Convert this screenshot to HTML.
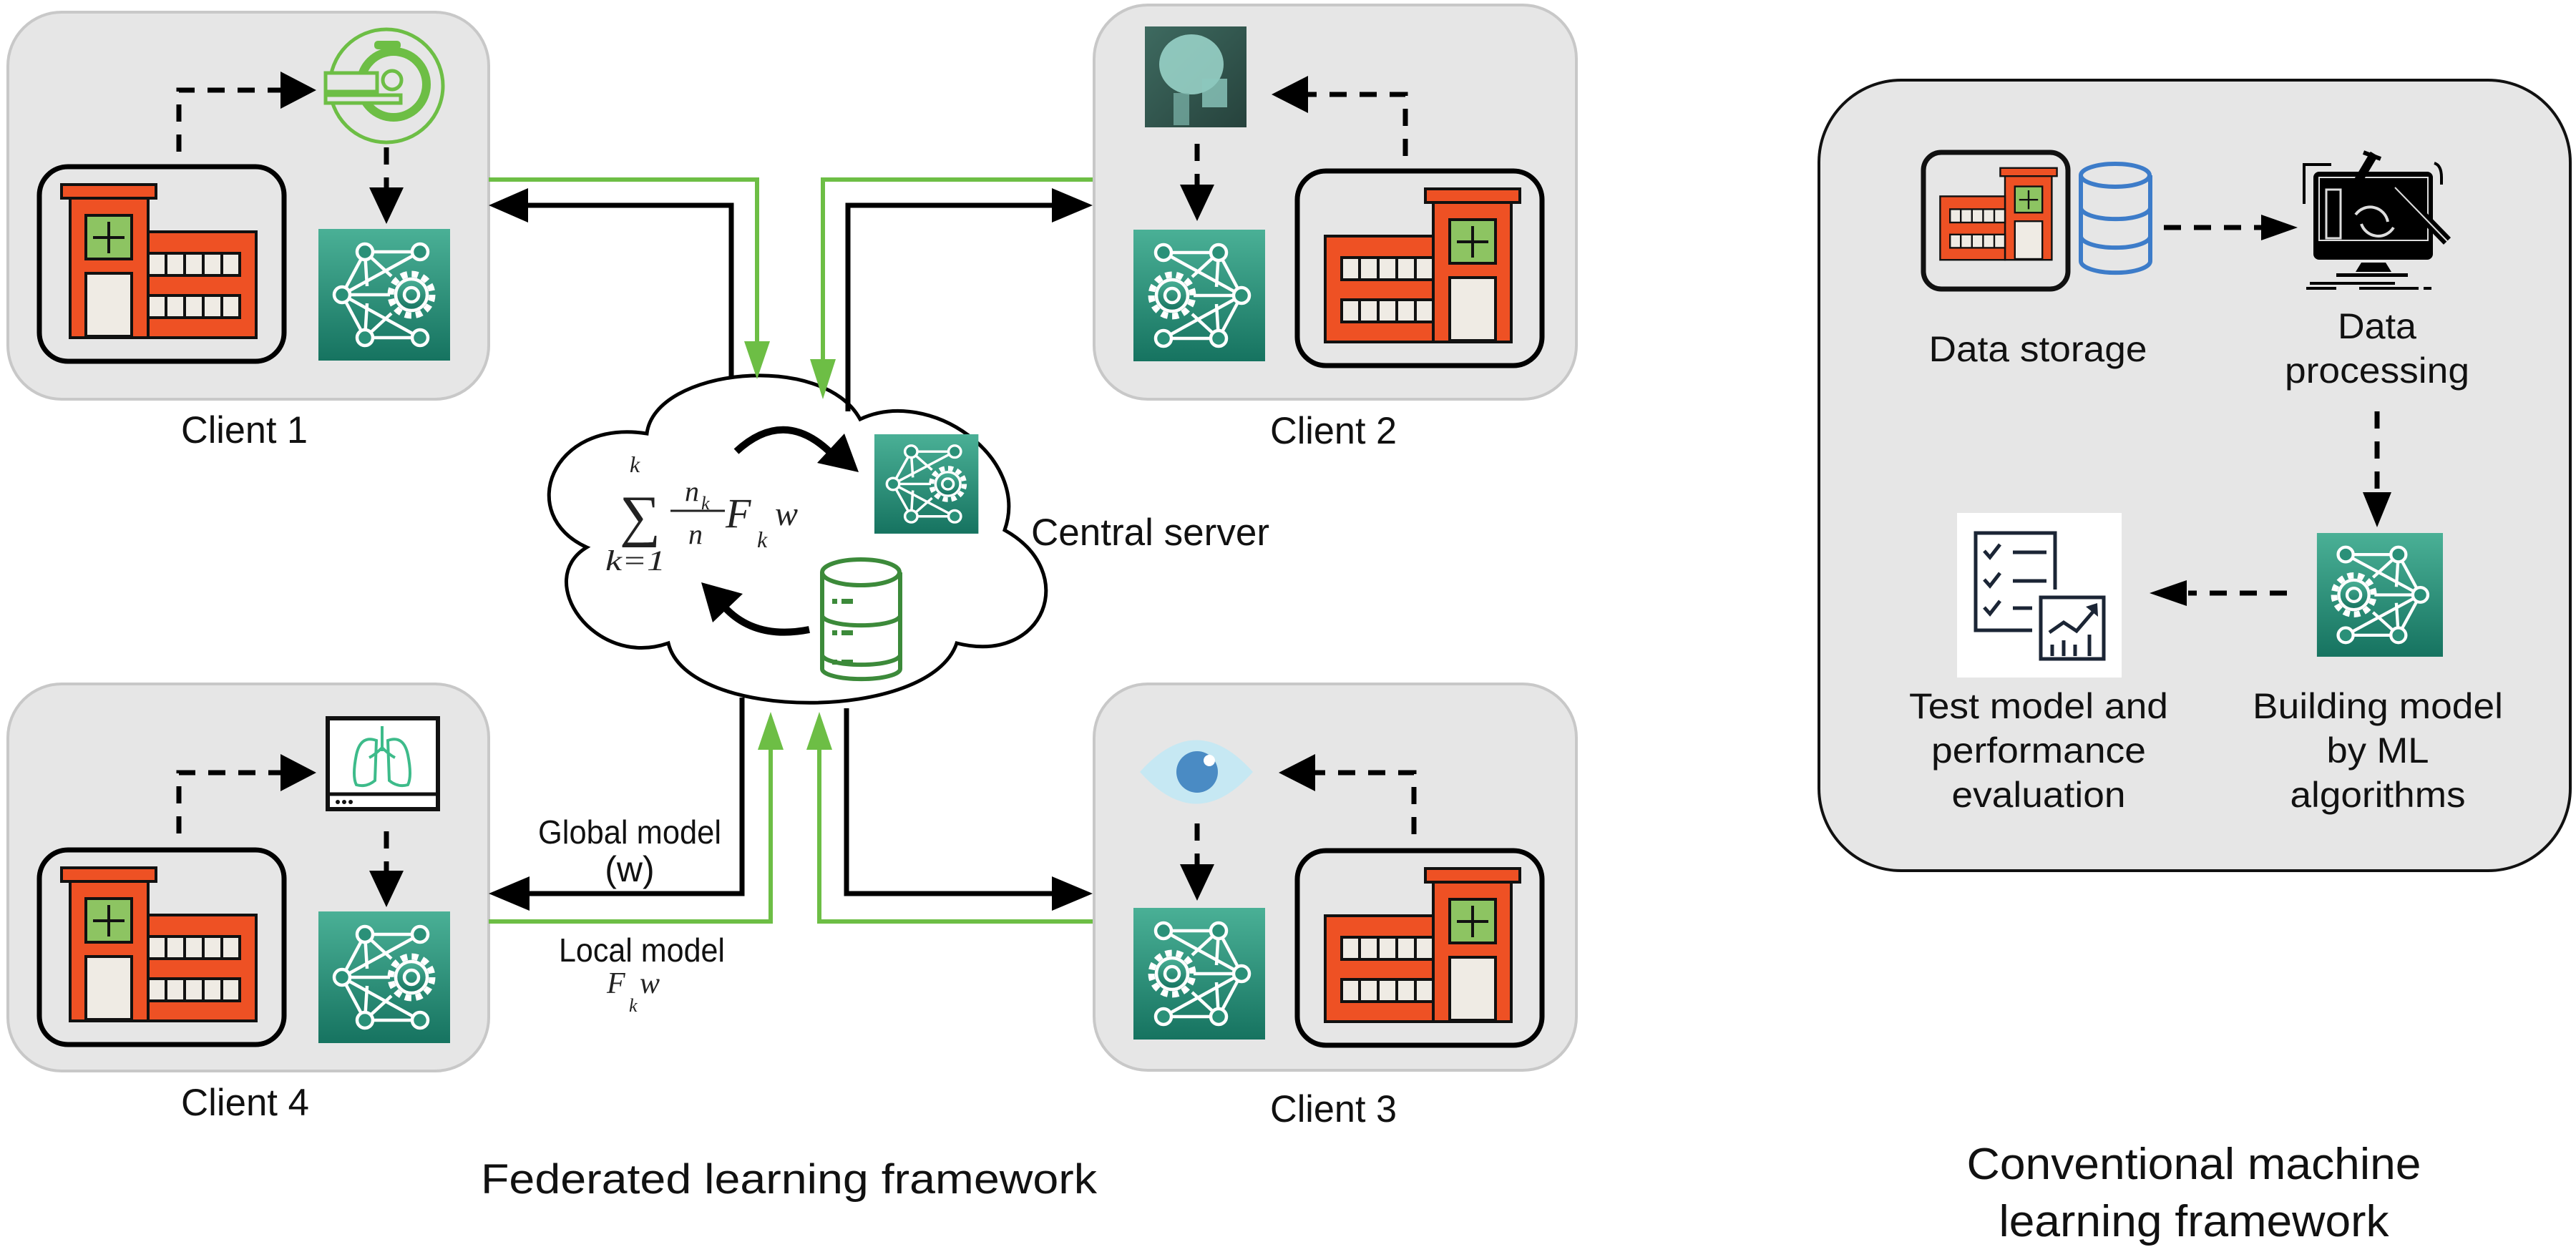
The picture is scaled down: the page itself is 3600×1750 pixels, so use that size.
<!DOCTYPE html>
<html><head><meta charset="utf-8"><style>
html,body{margin:0;padding:0;background:#fff;}
svg{display:block;}
text{font-family:"Liberation Sans",sans-serif;fill:#111;}
.ser{font-family:"Liberation Serif",serif;font-style:italic;fill:#222;}
</style></head><body>
<svg width="3600" height="1750" viewBox="0 0 3600 1750" xmlns="http://www.w3.org/2000/svg">
<defs>
<linearGradient id="tg" x1="0" y1="0" x2="0" y2="1"><stop offset="0" stop-color="#4AB096"/><stop offset="1" stop-color="#167360"/></linearGradient>
<linearGradient id="xg" x1="0" y1="0" x2="1" y2="1"><stop offset="0" stop-color="#3E6A60"/><stop offset="1" stop-color="#26423C"/></linearGradient>
<g id="nn">
<rect x="0" y="0" width="184" height="184" fill="url(#tg)"/>
<g stroke="#fff" stroke-width="4.5" fill="none">
<line x1="65" y1="32" x2="142" y2="32"/><line x1="65" y1="152" x2="142" y2="152"/>
<line x1="65" y1="32" x2="33" y2="92"/><line x1="65" y1="152" x2="33" y2="92"/>
<line x1="33" y1="92" x2="100" y2="92"/>
<line x1="142" y1="32" x2="33" y2="92"/><line x1="142" y1="152" x2="33" y2="92"/>
<line x1="65" y1="32" x2="68" y2="80"/><line x1="65" y1="152" x2="68" y2="104"/>
<line x1="65" y1="32" x2="102" y2="66"/><line x1="65" y1="152" x2="102" y2="118"/>
<circle cx="130" cy="92" r="29" stroke-width="9" stroke-dasharray="9 6.2"/>
<circle cx="130" cy="92" r="22" stroke-width="4.5" fill="url(#tg)"/>
<circle cx="130" cy="92" r="10" stroke-width="4.5"/>
</g>
<g stroke="#fff" stroke-width="4.5" fill="#2A9078">
<circle cx="65" cy="32" r="11"/><circle cx="142" cy="32" r="11"/><circle cx="33" cy="92" r="11"/>
<circle cx="65" cy="152" r="11"/><circle cx="142" cy="152" r="11"/>
</g>
</g>
<g id="hosp">
<rect x="3" y="3" width="342" height="272" rx="40" fill="none" stroke="#000" stroke-width="7"/>
<g stroke="#111" stroke-width="4">
<rect x="34" y="28" width="132" height="19" fill="#EE5124"/>
<rect x="46" y="47" width="109" height="195" fill="#EE5124"/>
<rect x="155" y="94" width="151" height="148" fill="#EE5124"/>
<rect x="68" y="71" width="64" height="61" fill="#8DC462"/>
<rect x="68" y="152" width="64" height="88" fill="#EFEBE4"/>
<rect x="155" y="124" width="128" height="31" fill="#EFEBE4"/>
<rect x="155" y="183" width="128" height="31" fill="#EFEBE4"/>
</g>
<g stroke="#111" stroke-width="4">
<line x1="100" y1="80" x2="100" y2="124"/><line x1="78" y1="102" x2="122" y2="102"/>
<line x1="180" y1="124" x2="180" y2="155"/><line x1="206" y1="124" x2="206" y2="155"/><line x1="232" y1="124" x2="232" y2="155"/><line x1="258" y1="124" x2="258" y2="155"/>
<line x1="180" y1="183" x2="180" y2="214"/><line x1="206" y1="183" x2="206" y2="214"/><line x1="232" y1="183" x2="232" y2="214"/><line x1="258" y1="183" x2="258" y2="214"/>
</g>
</g>
</defs>

<g fill="#E6E6E6" stroke="#C8C8C8" stroke-width="4">
<rect x="11" y="17" width="672" height="541" rx="75"/>
<rect x="1529" y="7" width="674" height="551" rx="75"/>
<rect x="11" y="956" width="672" height="541" rx="75"/>
<rect x="1529" y="956" width="674" height="540" rx="75"/>
</g>

<use href="#hosp" transform="translate(52,230)"/>
<use href="#nn" transform="translate(445,320)"/>
<g fill="none" stroke="#6DBE45">
<circle cx="540" cy="120" r="79" stroke-width="5"/>
<circle cx="550" cy="118" r="46" stroke-width="12"/>
</g>
<rect x="523" y="57" width="37" height="12" rx="5" fill="#6DBE45"/>
<rect x="455" y="102" width="72" height="26" fill="#E6E6E6" stroke="#6DBE45" stroke-width="5"/>
<circle cx="548" cy="112" r="13" fill="#E6E6E6" stroke="#6DBE45" stroke-width="5"/>
<rect x="455" y="133" width="105" height="11" fill="#E6E6E6" stroke="#6DBE45" stroke-width="5"/>
<text x="253" y="619" font-size="53" textLength="177" lengthAdjust="spacingAndGlyphs">Client 1</text>

<use href="#hosp" transform="translate(2158,236) scale(-1,1)"/>
<use href="#nn" transform="translate(1768,321) scale(-1,1)"/>
<rect x="1600" y="37" width="142" height="141" fill="url(#xg)"/>
<ellipse cx="1665" cy="90" rx="45" ry="42" fill="#9ED8CE" opacity="0.85"/>
<rect x="1680" y="110" width="35" height="40" fill="#8CC8BE" opacity="0.8"/>
<rect x="1640" y="130" width="22" height="45" fill="#7FB8AE" opacity="0.7"/>
<text x="1775" y="620" font-size="53" textLength="177" lengthAdjust="spacingAndGlyphs">Client 2</text>

<use href="#hosp" transform="translate(52,1185)"/>
<use href="#nn" transform="translate(445,1274)"/>
<rect x="458" y="1004" width="154" height="127" fill="#fff" stroke="#111" stroke-width="6"/>
<line x1="458" y1="1110" x2="612" y2="1110" stroke="#111" stroke-width="5"/>
<g fill="#111"><circle cx="472" cy="1121" r="3"/><circle cx="481" cy="1121" r="3"/><circle cx="490" cy="1121" r="3"/></g>
<g fill="none" stroke="#3DBB8A" stroke-width="4">
<path d="M534,1015 V1050 M534,1045 q-10,10 -18,14 M534,1045 q10,10 18,14"/>
<path d="M526,1035 q-22,-8 -28,20 q-6,30 0,42 q14,4 26,-6 z"/>
<path d="M542,1035 q22,-8 28,20 q6,30 0,42 q-14,4 -26,-6 z"/>
</g>
<text x="253" y="1559" font-size="53" textLength="179" lengthAdjust="spacingAndGlyphs">Client 4</text>

<use href="#hosp" transform="translate(2158,1186) scale(-1,1)"/>
<use href="#nn" transform="translate(1768,1269) scale(-1,1)"/>
<path d="M1593,1079 Q1672,990 1751,1079 Q1672,1168 1593,1079 Z" fill="#C6E8F3"/>
<circle cx="1673" cy="1079" r="29" fill="#4A8BC4"/>
<circle cx="1690" cy="1063" r="8" fill="#fff"/>
<text x="1775" y="1568" font-size="53" textLength="177" lengthAdjust="spacingAndGlyphs">Client 3</text>

<path d="M904,606 C915,515 1150,490 1202,586 C1300,540 1440,640 1404,741 C1510,800 1460,930 1337,899 C1300,1010 960,1010 934,899 C830,935 745,810 820,765 C720,720 770,585 904,606 Z" fill="#fff" stroke="#000" stroke-width="5"/>

<g fill="none" stroke-linejoin="miter">
<polyline points="683,251 1058,251 1058,480" stroke="#6DBE45" stroke-width="6"/>
<polyline points="1527,251 1150,251 1150,505" stroke="#6DBE45" stroke-width="6"/>
<polyline points="683,1288 1077,1288 1077,1048" stroke="#6DBE45" stroke-width="6"/>
<polyline points="1527,1288 1145,1288 1145,1048" stroke="#6DBE45" stroke-width="6"/>
<polyline points="1022,527 1022,287 735,287" stroke="#000" stroke-width="7"/>
<polyline points="1185,575 1185,287 1472,287" stroke="#000" stroke-width="7"/>
<polyline points="1037,975 1037,1249 738,1249" stroke="#000" stroke-width="7"/>
<polyline points="1183,990 1183,1249 1472,1249" stroke="#000" stroke-width="7"/>
</g>
<g fill="#6DBE45">
<polygon points="1058,530 1040,477 1076,477"/>
<polygon points="1150,558 1132,502 1168,502"/>
<polygon points="1077,995 1059,1048 1095,1048"/>
<polygon points="1145,995 1127,1048 1163,1048"/>
</g>
<g fill="#000">
<polygon points="683,287 738,263 738,311"/>
<polygon points="1527,287 1470,263 1470,311"/>
<polygon points="683,1249 740,1225 740,1273"/>
<polygon points="1527,1249 1470,1225 1470,1273"/>
</g>

<g fill="none" stroke="#000" stroke-width="7" stroke-dasharray="24 18">
<path d="M250,212 V126 H392"/><path d="M540,206 V262"/>
<path d="M250,1165 V1080 H392"/><path d="M540,1162 V1218"/>
<path d="M1964,218 V132 H1828"/><path d="M1673,201 V258"/>
<path d="M1976,1166 V1080 H1838"/><path d="M1673,1151 V1208"/>
</g>
<g fill="#000">
<polygon points="442,126 392,100 392,152"/><polygon points="540,313 516,262 564,262"/>
<polygon points="442,1080 392,1054 392,1106"/><polygon points="540,1268 516,1217 564,1217"/>
<polygon points="1777,132 1828,106 1828,158"/><polygon points="1673,309 1649,258 1697,258"/>
<polygon points="1787,1080 1838,1054 1838,1106"/><polygon points="1673,1259 1649,1208 1697,1208"/>
</g>

<use href="#nn" transform="translate(1222,607) scale(0.79,0.755)"/>
<g fill="#fff" stroke="#3C8A3A" stroke-width="6">
<path d="M1149,915 V935 a54,14 0 0 0 109,0 V915"/>
<path d="M1149,860 V915 a54,14 0 0 0 109,0 V860"/>
<path d="M1149,800 V860 a54,14 0 0 0 109,0 V800"/>
<ellipse cx="1203" cy="800" rx="54" ry="18"/>
</g>
<g fill="#3C8A3A"><rect x="1163" y="837" width="7" height="7"/><rect x="1176" y="837" width="16" height="7"/><rect x="1163" y="881" width="7" height="7"/><rect x="1176" y="881" width="16" height="7"/><rect x="1163" y="922" width="7" height="7"/><rect x="1176" y="922" width="16" height="7"/></g>
<path d="M1029,631 Q1095,570 1160,632" fill="none" stroke="#000" stroke-width="10"/>
<polygon points="1200,660 1142,647 1180,606" fill="#000"/>
<path d="M1131,880 Q1055,895 1012,848" fill="none" stroke="#000" stroke-width="10"/>
<polygon points="980,814 1038,830 996,870" fill="#000"/>
<text x="1441" y="762" font-size="53" textLength="333" lengthAdjust="spacingAndGlyphs">Central server</text>

<text class="ser" x="880" y="660" font-size="32">k</text>
<text x="866" y="748" font-size="80" style="font-family:'Liberation Serif',serif;fill:#222">∑</text>
<text class="ser" x="846" y="797" font-size="40" textLength="84" lengthAdjust="spacingAndGlyphs">k=1</text>
<text class="ser" x="957" y="700" font-size="40">n</text>
<text class="ser" x="980" y="712" font-size="26">k</text>
<line x1="937" y1="714" x2="1013" y2="714" stroke="#222" stroke-width="3"/>
<text class="ser" x="962" y="760" font-size="40">n</text>
<text class="ser" x="1014" y="737" font-size="58">F</text>
<text class="ser" x="1058" y="765" font-size="32">k</text>
<text class="ser" x="1083" y="734" font-size="48">w</text>

<text x="752" y="1179" font-size="46" textLength="256" lengthAdjust="spacingAndGlyphs">Global model</text>
<text x="880" y="1232" font-size="50" text-anchor="middle">(w)</text>
<text x="781" y="1344" font-size="46" textLength="232" lengthAdjust="spacingAndGlyphs">Local model</text>
<text class="ser" x="848" y="1388" font-size="42">F</text>
<text class="ser" x="879" y="1414" font-size="26">k</text>
<text class="ser" x="894" y="1388" font-size="42">w</text>
<text x="672" y="1668" font-size="58" textLength="861" lengthAdjust="spacingAndGlyphs">Federated learning framework</text>

<rect x="2542" y="112" width="1050" height="1105" rx="115" fill="#E6E6E6" stroke="#111" stroke-width="4"/>
<rect x="2688" y="213" width="202" height="191" rx="25" fill="#E6E6E6" stroke="#111" stroke-width="7"/>
<g transform="translate(2895,218) scale(-0.6,0.6)">
<g stroke="#111" stroke-width="4">
<rect x="34" y="28" width="132" height="19" fill="#EE5124"/>
<rect x="46" y="47" width="109" height="195" fill="#EE5124"/>
<rect x="155" y="94" width="151" height="148" fill="#EE5124"/>
<rect x="68" y="71" width="64" height="61" fill="#8DC462"/>
<rect x="68" y="152" width="64" height="88" fill="#EFEBE4"/>
<rect x="155" y="124" width="128" height="31" fill="#EFEBE4"/>
<rect x="155" y="183" width="128" height="31" fill="#EFEBE4"/>
<line x1="100" y1="80" x2="100" y2="124"/><line x1="78" y1="102" x2="122" y2="102"/>
<line x1="180" y1="124" x2="180" y2="155"/><line x1="206" y1="124" x2="206" y2="155"/><line x1="232" y1="124" x2="232" y2="155"/><line x1="258" y1="124" x2="258" y2="155"/>
<line x1="180" y1="183" x2="180" y2="214"/><line x1="206" y1="183" x2="206" y2="214"/><line x1="232" y1="183" x2="232" y2="214"/><line x1="258" y1="183" x2="258" y2="214"/>
</g></g>
<g fill="none" stroke="#3D7CC9" stroke-width="6">
<path d="M2908,245 V365 a48,16 0 0 0 97,0 V245"/>
<path d="M2908,290 a48,16 0 0 0 97,0"/><path d="M2908,330 a48,16 0 0 0 97,0"/>
<ellipse cx="2956" cy="245" rx="48" ry="16"/>
</g>
<rect x="3233" y="240" width="167" height="123" rx="8" fill="#000"/>
<rect x="3241" y="248" width="152" height="88" fill="none" stroke="#ddd" stroke-width="2"/>
<rect x="3251" y="265" width="20" height="68" fill="none" stroke="#ddd" stroke-width="3"/>
<path d="M3292,300 a25,25 0 0 1 45,10 M3345,318 a25,25 0 0 1 -45,-5" fill="none" stroke="#ddd" stroke-width="4"/>
<line x1="3347" y1="262" x2="3420" y2="337" stroke="#000" stroke-width="14"/>
<line x1="3347" y1="262" x2="3420" y2="337" stroke="#ddd" stroke-width="2"/>
<line x1="3290" y1="262" x2="3318" y2="215" stroke="#000" stroke-width="12"/>
<line x1="3303" y1="213" x2="3327" y2="222" stroke="#000" stroke-width="6"/>
<path d="M3220,285 V230 H3258 M3402,228 q10,3 10,20 V258" fill="none" stroke="#000" stroke-width="4"/>
<polygon points="3300,367 3334,367 3342,380 3292,380" fill="#000"/>
<rect x="3265" y="382" width="100" height="5" fill="#000"/>
<rect x="3228" y="394" width="119" height="4" fill="#000"/>
<rect x="3223" y="401" width="42" height="4" fill="#000"/><rect x="3297" y="401" width="83" height="4" fill="#000"/><rect x="3387" y="401" width="11" height="4" fill="#000"/>
<g transform="translate(3414,745) scale(-0.957,0.94)"><use href="#nn"/></g>
<rect x="2735" y="717" width="230" height="230" fill="#fff"/>
<g fill="none" stroke="#1B2535" stroke-width="5">
<path d="M2872,824 V745 H2761 V881 H2840"/>
<rect x="2852" y="835" width="88" height="86"/>
<path d="M2773,770 l8,9 l14,-18 M2773,810 l8,9 l14,-18 M2773,849 l8,9 l14,-18"/>
<path d="M2813,772 H2860 M2813,812 H2860 M2813,850 H2840"/>
<path d="M2864,884 l20,-14 l18,12 l24,-28"/>
<path d="M2868,917 v-16 M2884,917 v-22 M2900,917 v-16 M2920,917 v-30"/>
</g>
<polygon points="2931,843 2932,862 2915,848" fill="#1B2535"/>

<g fill="none" stroke="#000" stroke-width="7" stroke-dasharray="24 18">
<path d="M3024,318 H3162"/><path d="M3322,575 V690"/><path d="M3196,829 H3058"/>
</g>
<g fill="#000">
<polygon points="3211,318 3160,300 3160,336"/><polygon points="3322,737 3302,688 3342,688"/>
<polygon points="3004,829 3056,811 3056,847"/>
</g>

<g font-size="50">
<text x="2848" y="505" text-anchor="middle" textLength="305" lengthAdjust="spacingAndGlyphs">Data storage</text>
<text x="3322" y="473" text-anchor="middle" textLength="110" lengthAdjust="spacingAndGlyphs">Data</text>
<text x="3322" y="535" text-anchor="middle" textLength="258" lengthAdjust="spacingAndGlyphs">processing</text>
<text x="2849" y="1004" text-anchor="middle" textLength="362" lengthAdjust="spacingAndGlyphs">Test model and</text>
<text x="2849" y="1066" text-anchor="middle" textLength="300" lengthAdjust="spacingAndGlyphs">performance</text>
<text x="2849" y="1128" text-anchor="middle" textLength="243" lengthAdjust="spacingAndGlyphs">evaluation</text>
<text x="3323" y="1004" text-anchor="middle" textLength="350" lengthAdjust="spacingAndGlyphs">Building model</text>
<text x="3323" y="1066" text-anchor="middle" textLength="143" lengthAdjust="spacingAndGlyphs">by ML</text>
<text x="3323" y="1128" text-anchor="middle" textLength="245" lengthAdjust="spacingAndGlyphs">algorithms</text>
</g>
<text x="3066" y="1648" font-size="62" text-anchor="middle" textLength="635" lengthAdjust="spacingAndGlyphs">Conventional machine</text>
<text x="3066" y="1728" font-size="62" text-anchor="middle" textLength="545" lengthAdjust="spacingAndGlyphs">learning framework</text>
</svg>
</body></html>
